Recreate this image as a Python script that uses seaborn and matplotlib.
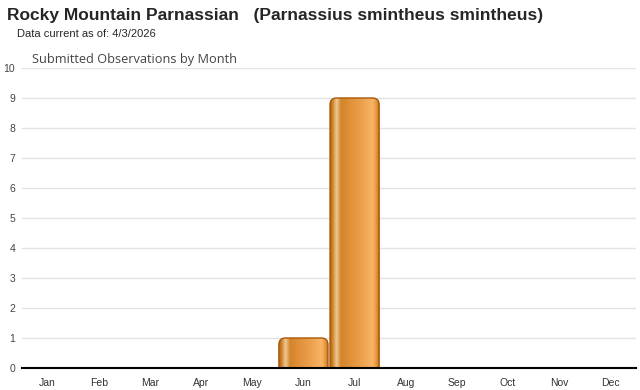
import numpy as np
import pandas as pd
import matplotlib
matplotlib.use('Agg')
import matplotlib.pyplot as plt
from matplotlib.colors import LinearSegmentedColormap
from matplotlib.patches import FancyBboxPatch
import seaborn as sns

months = ['Jan', 'Feb', 'Mar', 'Apr', 'May', 'Jun',
          'Jul', 'Aug', 'Sep', 'Oct', 'Nov', 'Dec']
counts = [0, 0, 0, 0, 0, 1, 9, 0, 0, 0, 0, 0]
yticks = list(range(0, 11))

title = 'Rocky Mountain Parnassian   (Parnassius smintheus smintheus)'
subtitle = 'Data current as of: 4/3/2026'
chart_title = 'Submitted Observations by Month'

sns.set_style('white')
plt.rcParams['font.family'] = ['Liberation Sans', 'DejaVu Sans']

df = pd.DataFrame({'month': months, 'count': counts})

fig = plt.figure(figsize=(6.4, 3.9), dpi=100)
ax = fig.add_axes([22 / 640, 22 / 390, 614 / 640, 300 / 390])
sns.barplot(data=df, x='month', y='count', ax=ax, width=1.0,
            color='#e0902e', zorder=3)

# gradient fill for the bars (orange "cylinder" look)
grad = LinearSegmentedColormap.from_list('bar', [
    (0.00, '#b5650f'), (0.05, '#cf8227'), (0.13, '#efc896'),
    (0.22, '#d4852a'), (0.55, '#e99a45'), (0.86, '#f8b466'),
    (0.94, '#e49035'), (1.00, '#ad5d0a')])
g = np.linspace(0, 1, 256).reshape(1, -1)

for p in ax.patches:
    h = p.get_height()
    if h <= 0:
        p.set_visible(False)
        continue
    x, w = p.get_x(), p.get_width()
    p.set_visible(False)
    box = FancyBboxPatch((x + 0.02, -0.5), w - 0.04, h + 0.5,
                         boxstyle='round,pad=0,rounding_size=0.13',
                         mutation_aspect=1.7, facecolor='none',
                         edgecolor='#a85a08', linewidth=1.0, zorder=4)
    ax.add_patch(box)
    im = ax.imshow(g, cmap=grad, aspect='auto', zorder=3.5,
                   extent=(x + 0.02, x + w - 0.02, -0.5, h),
                   interpolation='bilinear')
    im.set_clip_path(box)

ax.set_xlim(-0.5, 11.5)
ax.set_ylim(0, 10)
ax.set_yticks(yticks)
ax.set_xlabel('')
ax.set_ylabel('')
ax.grid(axis='y', color='#e3e3e3', linewidth=1.0, zorder=0)
ax.grid(axis='x', visible=False)
for s in ['top', 'right', 'left']:
    ax.spines[s].set_visible(False)
ax.spines['bottom'].set_color('black')
ax.spines['bottom'].set_linewidth(1.5)
ax.spines['bottom'].set_zorder(6)
ax.tick_params(axis='y', length=0, pad=5, labelsize=7.5, labelcolor='#444444')
ax.tick_params(axis='x', length=3, width=0.8, color='#d0d0d0', pad=4,
               labelsize=7.5, labelcolor='#333333')

fig.text(7 / 640, 1 - 20 / 390, title, fontsize=12.5, fontweight='bold',
         va='baseline', ha='left')
fig.text(17 / 640, 1 - 37 / 390, subtitle, fontsize=8, va='baseline', ha='left')
fig.text(32 / 640, 1 - 63 / 390, chart_title, fontsize=9.2, color='#444444',
         family=['Open Sans', 'DejaVu Sans'], va='baseline', ha='left')

fig.savefig('out.png', dpi=100)
